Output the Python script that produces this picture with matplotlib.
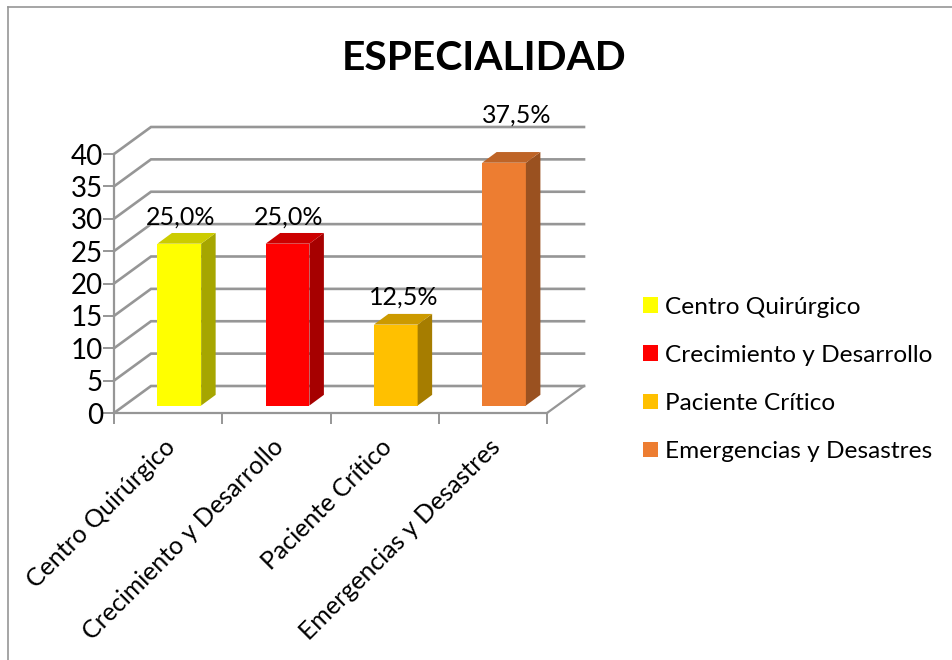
import matplotlib
matplotlib.use("Agg")
import matplotlib.pyplot as plt
from matplotlib.patches import Polygon, Patch
from matplotlib.lines import Line2D

categories = ["Centro Quirúrgico", "Crecimiento y Desarrollo", "Paciente Crítico", "Emergencias y Desastres"]
values = [25.0, 25.0, 12.5, 37.5]
value_labels = ["25,0%", "25,0%", "12,5%", "37,5%"]
y_ticks = [0, 5, 10, 15, 20, 25, 30, 35, 40]
title = "ESPECIALIDAD"

face = ["#FFFF00", "#FF0000", "#FFC000", "#ED7D31"]
top = ["#CCCC00", "#CC0000", "#CC9A00", "#BE6427"]
side = ["#A6A600", "#A60000", "#A67D00", "#9A5120"]
label_shift = [(1, 16), (1, 16), (8, 17), (13, 37)]  # pixels from the bar's top back edge
GRAY = "#969696"
W, H = 952, 660
plt.rcParams["font.family"] = ["Lato", "DejaVu Sans"]

fig = plt.figure(figsize=(W / 100, H / 100), dpi=100, facecolor="white")
x0, x1, y0, y1 = 114, 547, 413, 154
ax = fig.add_axes([x0 / W, 1 - y0 / H, (x1 - x0) / W, (y0 - y1) / H])
ax.set_xlim(0, 4)
ax.set_ylim(0, 40)
ax.patch.set_alpha(0)
for s in ("top", "right"):
    ax.spines[s].set_visible(False)
for s in ("left", "bottom"):
    ax.spines[s].set_color(GRAY)
    ax.spines[s].set_linewidth(1.6)

# wall depth and bar depth, in data units
dx, dy = 37 / 108.25, 27 / 6.475
bdx, bdy = 14.5 / 108.25, 10.7 / 6.475
bar_off, bar_w, bar_base = 0.603, 0.404, 1.15

for v in y_ticks:
    ax.plot([0, dx, 4 + dx], [v, v + dy, v + dy], color=GRAY, lw=1.9, clip_on=False, zorder=1,
            solid_joinstyle="miter")
ax.plot([4, 4 + dx], [0, dy], color=GRAY, lw=1.6, clip_on=False, zorder=1)

xs = [i + bar_off for i in range(len(values))]
ax.bar(xs, values, width=bar_w, bottom=bar_base, color=face, zorder=3)
for i, (x, v) in enumerate(zip(xs, values)):
    l, r, b, t = x - bar_w / 2, x + bar_w / 2, bar_base, bar_base + v
    ax.add_patch(Polygon([(r, b), (r + bdx, b + bdy), (r + bdx, t + bdy), (r, t)],
                         fc=side[i], ec="none", clip_on=False, zorder=3))
    ax.add_patch(Polygon([(l, t), (l + bdx, t + bdy), (r + bdx, t + bdy), (r, t)],
                         fc=top[i], ec="none", clip_on=False, zorder=3))
    ax.annotate(value_labels[i], xy=(x, t + bdy), xytext=label_shift[i], textcoords="offset pixels",
                ha="center", va="center", fontsize=18, color="black", zorder=4, annotation_clip=False)

ax.set_yticks(y_ticks)
ax.tick_params(axis="y", length=8, width=1.4, color=GRAY, labelsize=20, pad=0, labelcolor="black")
ax.set_xticks(range(5))
ax.tick_params(axis="x", which="major", length=8, width=1.4, color=GRAY, labelbottom=False)
ax.set_xticks([i + 0.46 for i in range(4)], categories, minor=True)
ax.tick_params(axis="x", which="minor", length=0, labelsize=18, pad=16, labelcolor="black")
for t in ax.get_xticklabels(minor=True):
    t.set_rotation(45)
    t.set_ha("right")
    t.set_va("top")
    t.set_rotation_mode("anchor")

fig.text(484 / W, 1 - 59 / H, title, ha="center", va="center", fontsize=29.3, fontweight="bold", color="black")

handles = [Patch(fc=c, ec="none") for c in face]
fig.legend(handles, categories, loc="center left", bbox_to_anchor=(643 / W, 1 - 379.5 / H),
           frameon=False, fontsize=17.6, handlelength=0.614, handleheight=0.614,
           handletextpad=0.3, labelspacing=1.11, borderpad=0, borderaxespad=0)

fig.add_artist(Line2D([8 / W, 8 / W], [0, 1 - 7 / H], color=GRAY, lw=1.2))
fig.add_artist(Line2D([8 / W, 1], [1 - 7 / H, 1 - 7 / H], color=GRAY, lw=1.2))
fig.savefig("out.png", dpi=100, facecolor="white")
